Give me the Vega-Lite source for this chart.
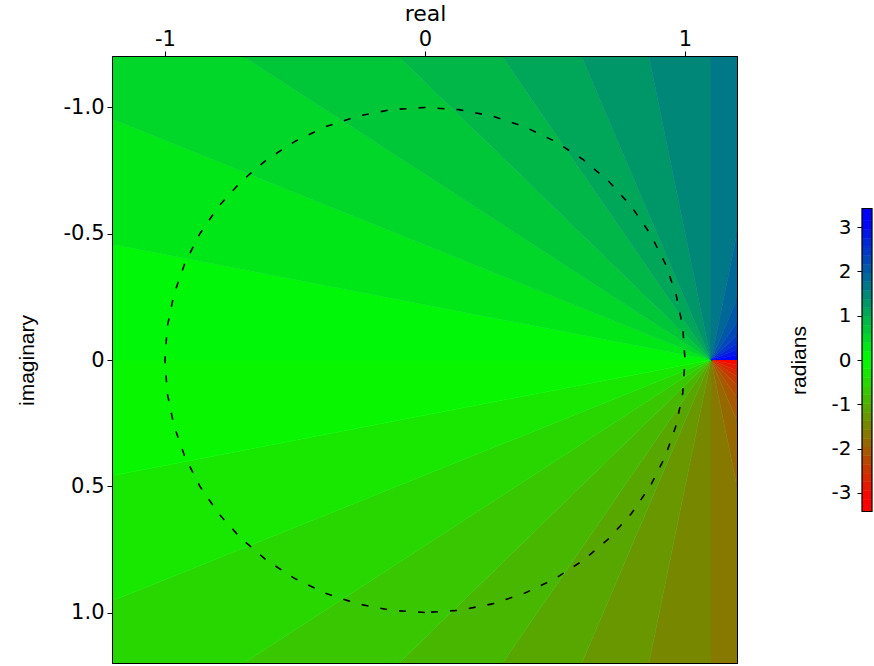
{
  "$schema": "https://vega.github.io/schema/vega-lite/v6.json",
  "width": 624,
  "height": 606,
  "autosize": {"type": "none"},
  "padding": {"left": 113, "top": 57, "right": 137, "bottom": 3},
  "background": "white",
  "config": {"view": {"stroke": "black", "strokeWidth": 2}},
  "datasets": {
    "wedges": [
      {"w": 0, "o": 0, "re": 1.1, "im": 0, "phase": -3.0434},
      {"w": 0, "o": 1, "re": 5.1, "im": 0, "phase": -3.0434},
      {"w": 0, "o": 2, "re": 5.0231, "im": 0.7804, "phase": -3.0434},
      {"w": 1, "o": 0, "re": 1.1, "im": 0, "phase": -2.8471},
      {"w": 1, "o": 1, "re": 5.0231, "im": 0.7804, "phase": -2.8471},
      {"w": 1, "o": 2, "re": 4.7955, "im": 1.5307, "phase": -2.8471},
      {"w": 2, "o": 0, "re": 1.1, "im": 0, "phase": -2.6507},
      {"w": 2, "o": 1, "re": 4.7955, "im": 1.5307, "phase": -2.6507},
      {"w": 2, "o": 2, "re": 4.4259, "im": 2.2223, "phase": -2.6507},
      {"w": 3, "o": 0, "re": 1.1, "im": 0, "phase": -2.4544},
      {"w": 3, "o": 1, "re": 4.4259, "im": 2.2223, "phase": -2.4544},
      {"w": 3, "o": 2, "re": 3.9284, "im": 2.8284, "phase": -2.4544},
      {"w": 4, "o": 0, "re": 1.1, "im": 0, "phase": -2.258},
      {"w": 4, "o": 1, "re": 3.9284, "im": 2.8284, "phase": -2.258},
      {"w": 4, "o": 2, "re": 3.3223, "im": 3.3259, "phase": -2.258},
      {"w": 5, "o": 0, "re": 1.1, "im": 0, "phase": -2.0617},
      {"w": 5, "o": 1, "re": 3.3223, "im": 3.3259, "phase": -2.0617},
      {"w": 5, "o": 2, "re": 2.6307, "im": 3.6955, "phase": -2.0617},
      {"w": 6, "o": 0, "re": 1.1, "im": 0, "phase": -1.8653},
      {"w": 6, "o": 1, "re": 2.6307, "im": 3.6955, "phase": -1.8653},
      {"w": 6, "o": 2, "re": 1.8804, "im": 3.9231, "phase": -1.8653},
      {"w": 7, "o": 0, "re": 1.1, "im": 0, "phase": -1.669},
      {"w": 7, "o": 1, "re": 1.8804, "im": 3.9231, "phase": -1.669},
      {"w": 7, "o": 2, "re": 1.1, "im": 4, "phase": -1.669},
      {"w": 8, "o": 0, "re": 1.1, "im": 0, "phase": -1.4726},
      {"w": 8, "o": 1, "re": 1.1, "im": 4, "phase": -1.4726},
      {"w": 8, "o": 2, "re": 0.3196, "im": 3.9231, "phase": -1.4726},
      {"w": 9, "o": 0, "re": 1.1, "im": 0, "phase": -1.2763},
      {"w": 9, "o": 1, "re": 0.3196, "im": 3.9231, "phase": -1.2763},
      {"w": 9, "o": 2, "re": -0.4307, "im": 3.6955, "phase": -1.2763},
      {"w": 10, "o": 0, "re": 1.1, "im": 0, "phase": -1.0799},
      {"w": 10, "o": 1, "re": -0.4307, "im": 3.6955, "phase": -1.0799},
      {"w": 10, "o": 2, "re": -1.1223, "im": 3.3259, "phase": -1.0799},
      {"w": 11, "o": 0, "re": 1.1, "im": 0, "phase": -0.8836},
      {"w": 11, "o": 1, "re": -1.1223, "im": 3.3259, "phase": -0.8836},
      {"w": 11, "o": 2, "re": -1.7284, "im": 2.8284, "phase": -0.8836},
      {"w": 12, "o": 0, "re": 1.1, "im": 0, "phase": -0.6872},
      {"w": 12, "o": 1, "re": -1.7284, "im": 2.8284, "phase": -0.6872},
      {"w": 12, "o": 2, "re": -2.2259, "im": 2.2223, "phase": -0.6872},
      {"w": 13, "o": 0, "re": 1.1, "im": 0, "phase": -0.4909},
      {"w": 13, "o": 1, "re": -2.2259, "im": 2.2223, "phase": -0.4909},
      {"w": 13, "o": 2, "re": -2.5955, "im": 1.5307, "phase": -0.4909},
      {"w": 14, "o": 0, "re": 1.1, "im": 0, "phase": -0.2945},
      {"w": 14, "o": 1, "re": -2.5955, "im": 1.5307, "phase": -0.2945},
      {"w": 14, "o": 2, "re": -2.8231, "im": 0.7804, "phase": -0.2945},
      {"w": 15, "o": 0, "re": 1.1, "im": 0, "phase": -0.0982},
      {"w": 15, "o": 1, "re": -2.8231, "im": 0.7804, "phase": -0.0982},
      {"w": 15, "o": 2, "re": -2.9, "im": 0, "phase": -0.0982},
      {"w": 16, "o": 0, "re": 1.1, "im": 0, "phase": 0.0982},
      {"w": 16, "o": 1, "re": -2.9, "im": 0, "phase": 0.0982},
      {"w": 16, "o": 2, "re": -2.8231, "im": -0.7804, "phase": 0.0982},
      {"w": 17, "o": 0, "re": 1.1, "im": 0, "phase": 0.2945},
      {"w": 17, "o": 1, "re": -2.8231, "im": -0.7804, "phase": 0.2945},
      {"w": 17, "o": 2, "re": -2.5955, "im": -1.5307, "phase": 0.2945},
      {"w": 18, "o": 0, "re": 1.1, "im": 0, "phase": 0.4909},
      {"w": 18, "o": 1, "re": -2.5955, "im": -1.5307, "phase": 0.4909},
      {"w": 18, "o": 2, "re": -2.2259, "im": -2.2223, "phase": 0.4909},
      {"w": 19, "o": 0, "re": 1.1, "im": 0, "phase": 0.6872},
      {"w": 19, "o": 1, "re": -2.2259, "im": -2.2223, "phase": 0.6872},
      {"w": 19, "o": 2, "re": -1.7284, "im": -2.8284, "phase": 0.6872},
      {"w": 20, "o": 0, "re": 1.1, "im": 0, "phase": 0.8836},
      {"w": 20, "o": 1, "re": -1.7284, "im": -2.8284, "phase": 0.8836},
      {"w": 20, "o": 2, "re": -1.1223, "im": -3.3259, "phase": 0.8836},
      {"w": 21, "o": 0, "re": 1.1, "im": 0, "phase": 1.0799},
      {"w": 21, "o": 1, "re": -1.1223, "im": -3.3259, "phase": 1.0799},
      {"w": 21, "o": 2, "re": -0.4307, "im": -3.6955, "phase": 1.0799},
      {"w": 22, "o": 0, "re": 1.1, "im": 0, "phase": 1.2763},
      {"w": 22, "o": 1, "re": -0.4307, "im": -3.6955, "phase": 1.2763},
      {"w": 22, "o": 2, "re": 0.3196, "im": -3.9231, "phase": 1.2763},
      {"w": 23, "o": 0, "re": 1.1, "im": 0, "phase": 1.4726},
      {"w": 23, "o": 1, "re": 0.3196, "im": -3.9231, "phase": 1.4726},
      {"w": 23, "o": 2, "re": 1.1, "im": -4, "phase": 1.4726},
      {"w": 24, "o": 0, "re": 1.1, "im": 0, "phase": 1.669},
      {"w": 24, "o": 1, "re": 1.1, "im": -4, "phase": 1.669},
      {"w": 24, "o": 2, "re": 1.8804, "im": -3.9231, "phase": 1.669},
      {"w": 25, "o": 0, "re": 1.1, "im": 0, "phase": 1.8653},
      {"w": 25, "o": 1, "re": 1.8804, "im": -3.9231, "phase": 1.8653},
      {"w": 25, "o": 2, "re": 2.6307, "im": -3.6955, "phase": 1.8653},
      {"w": 26, "o": 0, "re": 1.1, "im": 0, "phase": 2.0617},
      {"w": 26, "o": 1, "re": 2.6307, "im": -3.6955, "phase": 2.0617},
      {"w": 26, "o": 2, "re": 3.3223, "im": -3.3259, "phase": 2.0617},
      {"w": 27, "o": 0, "re": 1.1, "im": 0, "phase": 2.258},
      {"w": 27, "o": 1, "re": 3.3223, "im": -3.3259, "phase": 2.258},
      {"w": 27, "o": 2, "re": 3.9284, "im": -2.8284, "phase": 2.258},
      {"w": 28, "o": 0, "re": 1.1, "im": 0, "phase": 2.4544},
      {"w": 28, "o": 1, "re": 3.9284, "im": -2.8284, "phase": 2.4544},
      {"w": 28, "o": 2, "re": 4.4259, "im": -2.2223, "phase": 2.4544},
      {"w": 29, "o": 0, "re": 1.1, "im": 0, "phase": 2.6507},
      {"w": 29, "o": 1, "re": 4.4259, "im": -2.2223, "phase": 2.6507},
      {"w": 29, "o": 2, "re": 4.7955, "im": -1.5307, "phase": 2.6507},
      {"w": 30, "o": 0, "re": 1.1, "im": 0, "phase": 2.8471},
      {"w": 30, "o": 1, "re": 4.7955, "im": -1.5307, "phase": 2.8471},
      {"w": 30, "o": 2, "re": 5.0231, "im": -0.7804, "phase": 2.8471},
      {"w": 31, "o": 0, "re": 1.1, "im": 0, "phase": 3.0434},
      {"w": 31, "o": 1, "re": 5.0231, "im": -0.7804, "phase": 3.0434},
      {"w": 31, "o": 2, "re": 5.1, "im": 0, "phase": 3.0434}
    ],
    "circle": [
      {"i": 0, "re": 0, "im": 1},
      {"i": 1, "re": -0.130526, "im": 0.991445},
      {"i": 2, "re": -0.258819, "im": 0.965926},
      {"i": 3, "re": -0.382683, "im": 0.92388},
      {"i": 4, "re": -0.5, "im": 0.866025},
      {"i": 5, "re": -0.608761, "im": 0.793353},
      {"i": 6, "re": -0.707107, "im": 0.707107},
      {"i": 7, "re": -0.793353, "im": 0.608761},
      {"i": 8, "re": -0.866025, "im": 0.5},
      {"i": 9, "re": -0.92388, "im": 0.382683},
      {"i": 10, "re": -0.965926, "im": 0.258819},
      {"i": 11, "re": -0.991445, "im": 0.130526},
      {"i": 12, "re": -1, "im": 0},
      {"i": 13, "re": -0.991445, "im": -0.130526},
      {"i": 14, "re": -0.965926, "im": -0.258819},
      {"i": 15, "re": -0.92388, "im": -0.382683},
      {"i": 16, "re": -0.866025, "im": -0.5},
      {"i": 17, "re": -0.793353, "im": -0.608761},
      {"i": 18, "re": -0.707107, "im": -0.707107},
      {"i": 19, "re": -0.608761, "im": -0.793353},
      {"i": 20, "re": -0.5, "im": -0.866025},
      {"i": 21, "re": -0.382683, "im": -0.92388},
      {"i": 22, "re": -0.258819, "im": -0.965926},
      {"i": 23, "re": -0.130526, "im": -0.991445},
      {"i": 24, "re": 0, "im": -1},
      {"i": 25, "re": 0.130526, "im": -0.991445},
      {"i": 26, "re": 0.258819, "im": -0.965926},
      {"i": 27, "re": 0.382683, "im": -0.92388},
      {"i": 28, "re": 0.5, "im": -0.866025},
      {"i": 29, "re": 0.608761, "im": -0.793353},
      {"i": 30, "re": 0.707107, "im": -0.707107},
      {"i": 31, "re": 0.793353, "im": -0.608761},
      {"i": 32, "re": 0.866025, "im": -0.5},
      {"i": 33, "re": 0.92388, "im": -0.382683},
      {"i": 34, "re": 0.965926, "im": -0.258819},
      {"i": 35, "re": 0.991445, "im": -0.130526},
      {"i": 36, "re": 1, "im": 0},
      {"i": 37, "re": 0.991445, "im": 0.130526},
      {"i": 38, "re": 0.965926, "im": 0.258819},
      {"i": 39, "re": 0.92388, "im": 0.382683},
      {"i": 40, "re": 0.866025, "im": 0.5},
      {"i": 41, "re": 0.793353, "im": 0.608761},
      {"i": 42, "re": 0.707107, "im": 0.707107},
      {"i": 43, "re": 0.608761, "im": 0.793353},
      {"i": 44, "re": 0.5, "im": 0.866025},
      {"i": 45, "re": 0.382683, "im": 0.92388},
      {"i": 46, "re": 0.258819, "im": 0.965926},
      {"i": 47, "re": 0.130526, "im": 0.991445},
      {"i": 48, "re": 0, "im": 1}
    ],
    "bar": [
      {"lo": -3.42, "hi": -3.1416, "phase": -3.42},
      {"lo": -3.1416, "hi": -2.9452, "phase": -3.0434},
      {"lo": -2.9452, "hi": -2.7489, "phase": -2.8471},
      {"lo": -2.7489, "hi": -2.5525, "phase": -2.6507},
      {"lo": -2.5525, "hi": -2.3562, "phase": -2.4544},
      {"lo": -2.3562, "hi": -2.1598, "phase": -2.258},
      {"lo": -2.1598, "hi": -1.9635, "phase": -2.0617},
      {"lo": -1.9635, "hi": -1.7671, "phase": -1.8653},
      {"lo": -1.7671, "hi": -1.5708, "phase": -1.669},
      {"lo": -1.5708, "hi": -1.3744, "phase": -1.4726},
      {"lo": -1.3744, "hi": -1.1781, "phase": -1.2763},
      {"lo": -1.1781, "hi": -0.9817, "phase": -1.0799},
      {"lo": -0.9817, "hi": -0.7854, "phase": -0.8836},
      {"lo": -0.7854, "hi": -0.589, "phase": -0.6872},
      {"lo": -0.589, "hi": -0.3927, "phase": -0.4909},
      {"lo": -0.3927, "hi": -0.1963, "phase": -0.2945},
      {"lo": -0.1963, "hi": 0, "phase": -0.0982},
      {"lo": 0, "hi": 0.1963, "phase": 0.0982},
      {"lo": 0.1963, "hi": 0.3927, "phase": 0.2945},
      {"lo": 0.3927, "hi": 0.589, "phase": 0.4909},
      {"lo": 0.589, "hi": 0.7854, "phase": 0.6872},
      {"lo": 0.7854, "hi": 0.9817, "phase": 0.8836},
      {"lo": 0.9817, "hi": 1.1781, "phase": 1.0799},
      {"lo": 1.1781, "hi": 1.3744, "phase": 1.2763},
      {"lo": 1.3744, "hi": 1.5708, "phase": 1.4726},
      {"lo": 1.5708, "hi": 1.7671, "phase": 1.669},
      {"lo": 1.7671, "hi": 1.9635, "phase": 1.8653},
      {"lo": 1.9635, "hi": 2.1598, "phase": 2.0617},
      {"lo": 2.1598, "hi": 2.3562, "phase": 2.258},
      {"lo": 2.3562, "hi": 2.5525, "phase": 2.4544},
      {"lo": 2.5525, "hi": 2.7489, "phase": 2.6507},
      {"lo": 2.7489, "hi": 2.9452, "phase": 2.8471},
      {"lo": 2.9452, "hi": 3.1416, "phase": 3.0434},
      {"lo": 3.1416, "hi": 3.42, "phase": 3.42}
    ]
  },
  "layer": [
    {
      "layer": [
        {
          "data": {"name": "wedges"},
          "mark": {"type": "line", "filled": true, "clip": true, "strokeWidth": 0.8},
          "encoding": {
            "x": {
              "field": "re", "type": "quantitative",
              "scale": {"domain": [-1.2, 1.2], "nice": false, "zero": false},
              "axis": {
                "orient": "top", "values": [-1, 0, 1],
                "labelExpr": "toString(datum.value)",
                "title": "real", "titleFont": "DejaVu Sans", "titleFontSize": 22, "titleFontWeight": "normal", "titleColor": "black",
                "titlePadding": 3,
                "labelFont": "DejaVu Sans", "labelFontSize": 21, "labelColor": "black", "labelPadding": 2,
                "tickColor": "black", "tickSize": 6, "tickWidth": 1,
                "domain": false, "grid": false, "labelFlush": false, "labelOverlap": false
              }
            },
            "y": {
              "field": "im", "type": "quantitative",
              "scale": {"domain": [-1.2, 1.2], "reverse": true, "nice": false, "zero": false},
              "axis": {
                "orient": "left", "values": [-1, -0.5, 0, 0.5, 1],
                "labelExpr": "datum.value == 0 ? '0' : (datum.value < 0 ? '-' : '') + format(abs(datum.value), '.1f')",
                "title": "imaginary", "titleFont": "Liberation Sans", "titleFontSize": 21, "titleFontWeight": "normal", "titleColor": "black",
                "titlePadding": 26,
                "labelFont": "DejaVu Sans", "labelFontSize": 21, "labelColor": "black", "labelPadding": 3,
                "tickColor": "black", "tickSize": 6, "tickWidth": 1,
                "domain": false, "grid": false, "labelFlush": false, "labelOverlap": false
              }
            },
            "detail": {"field": "w", "type": "nominal"},
            "order": {"field": "o", "type": "quantitative"},
            "color": {
              "field": "phase", "type": "quantitative",
              "scale": {"type": "linear", "domain": [-3.42, -3.14159, 0, 3.14159, 3.42], "range": ["#ff0000", "#ff0000", "#00ff00", "#0000ff", "#0000ff"], "interpolate": "rgb"},
              "legend": null
            },
            "stroke": {
              "field": "phase", "type": "quantitative",
              "scale": {"type": "linear", "domain": [-3.42, -3.14159, 0, 3.14159, 3.42], "range": ["#ff0000", "#ff0000", "#00ff00", "#0000ff", "#0000ff"], "interpolate": "rgb"},
              "legend": null
            }
          }
        },
        {
          "data": {"name": "circle"},
          "mark": {"type": "line", "color": "black", "strokeWidth": 1.6, "strokeDash": [7, 12], "clip": true},
          "encoding": {
            "x": {"field": "re", "type": "quantitative", "scale": {"domain": [-1.2, 1.2], "nice": false, "zero": false}},
            "y": {"field": "im", "type": "quantitative", "scale": {"domain": [-1.2, 1.2], "reverse": true, "nice": false, "zero": false}},
            "order": {"field": "i", "type": "quantitative"}
          }
        }
      ]
    },
    {
      "layer": [
        {
          "data": {"name": "bar"},
          "mark": {"type": "rect", "strokeWidth": 0.5},
          "encoding": {
            "x": {"datum": 1.681, "type": "quantitative", "scale": {"domain": [-1.2, 1.2], "nice": false, "zero": false}},
            "x2": {"datum": 1.719},
            "y": {
              "field": "lo", "type": "quantitative",
              "scale": {"domain": [-6.84, 6.84], "nice": false, "zero": false},
              "axis": {
                "orient": "left", "offset": -749, "values": [-3, -2, -1, 0, 1, 2, 3],
                "labelExpr": "toString(datum.value)",
                "title": "radians", "titleFont": "Liberation Sans", "titleFontSize": 21, "titleFontWeight": "normal", "titleColor": "black",
                "titlePadding": 22,
                "labelFont": "DejaVu Sans", "labelFontSize": 20, "labelColor": "black", "labelPadding": 6,
                "tickColor": "black", "tickSize": 5, "tickWidth": 1,
                "domain": false, "grid": false, "labelFlush": false, "labelOverlap": false
              }
            },
            "y2": {"field": "hi"},
            "color": {
              "field": "phase", "type": "quantitative",
              "scale": {"type": "linear", "domain": [-3.42, -3.14159, 0, 3.14159, 3.42], "range": ["#ff0000", "#ff0000", "#00ff00", "#0000ff", "#0000ff"], "interpolate": "rgb"},
              "legend": null
            },
            "stroke": {
              "field": "phase", "type": "quantitative",
              "scale": {"type": "linear", "domain": [-3.42, -3.14159, 0, 3.14159, 3.42], "range": ["#ff0000", "#ff0000", "#00ff00", "#0000ff", "#0000ff"], "interpolate": "rgb"},
              "legend": null
            }
          }
        },
        {
          "data": {"values": [{}]},
          "mark": {"type": "rect", "fillOpacity": 0, "stroke": "black", "strokeWidth": 1.2},
          "encoding": {
            "x": {"datum": 1.681, "type": "quantitative"},
            "x2": {"datum": 1.719},
            "y": {"datum": -3.42, "type": "quantitative"},
            "y2": {"datum": 3.42}
          }
        }
      ]
    }
  ],
  "resolve": {"scale": {"y": "independent"}, "axis": {"y": "independent"}}
}
